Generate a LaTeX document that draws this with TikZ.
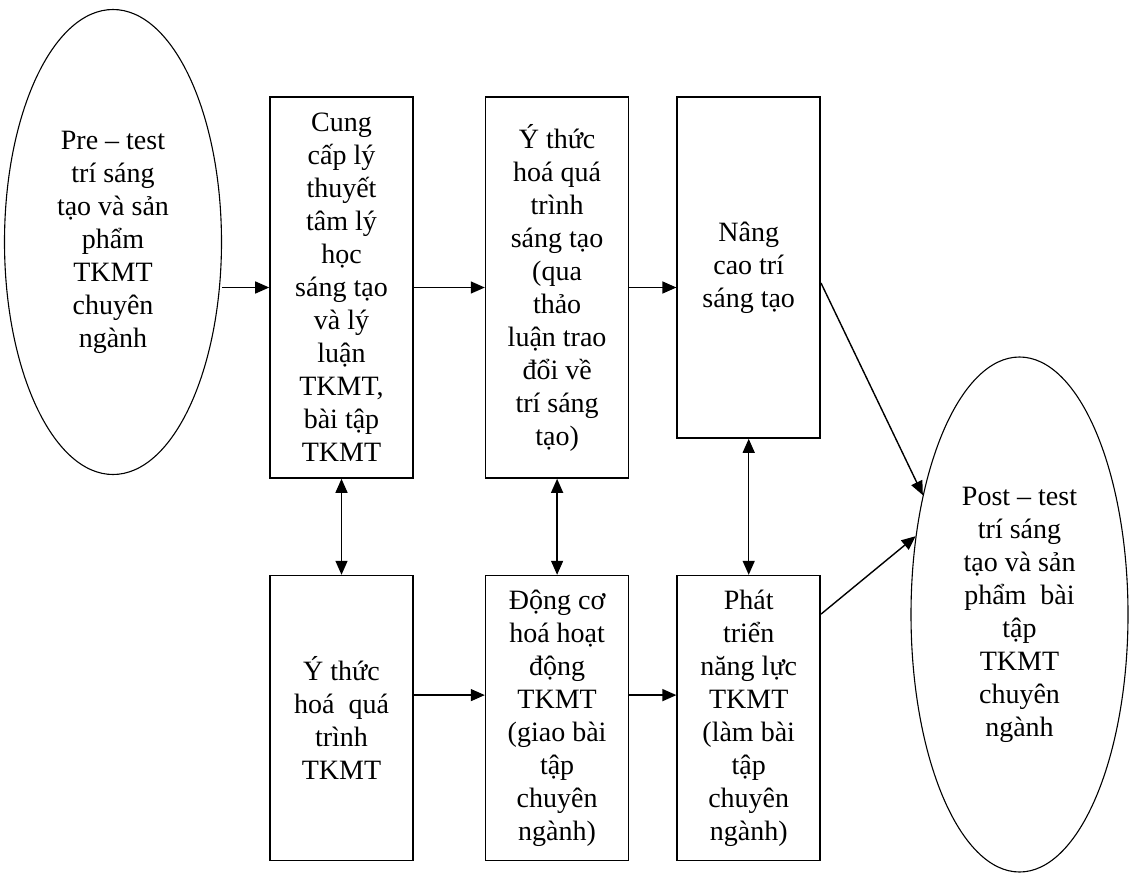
\documentclass[tikz,border=0pt]{standalone}
\usepackage{fontspec}
\setmainfont{Liberation Serif}
\usetikzlibrary{shapes.geometric, arrows.meta, positioning}

\begin{document}
\begin{tikzpicture}[
    stage/.style={draw, line width=0.8pt, minimum width=71.5pt, inner sep=2pt, align=center, font=\fontsize{14}{16.5}\selectfont},
    test/.style={draw, ellipse, line width=0.55pt, minimum width=108.5pt, inner sep=0pt, align=center, font=\fontsize{14}{16.5}\selectfont},
    arrow/.style={-{Triangle[length=7pt, width=6pt]}, line width=0.7pt},
    both/.style={{Triangle[length=7pt, width=6pt]}-{Triangle[length=7pt, width=6pt]}, line width=0.7pt}
]
    \useasboundingbox (0,0) rectangle (567pt,-444pt);

    % Tests
    \node[test, minimum height=232.5pt] (pre) at (56.5pt,-121pt) {Pre -- test\\trí sáng\\tạo và sản\\phẩm\\TKMT\\chuyên\\ngành};
    \node[test, minimum height=257.5pt] (post) at (509.75pt,-307.25pt) {Post -- test\\trí sáng\\tạo và sản\\phẩm~ bài\\tập\\TKMT\\chuyên\\ngành};

    % Nodes - top row
    \node[stage, minimum height=190.5pt] (theory) at (170.75pt,-143.75pt) {Cung\\cấp lý\\thuyết\\tâm lý\\học\\sáng tạo\\và lý\\luận\\TKMT,\\bài tập\\TKMT};
    \node[stage, minimum height=190.5pt, right=35.5pt of theory] (aware) {Ý thức\\hoá quá\\trình\\sáng tạo\\(qua\\thảo\\luận trao\\đổi về\\trí sáng\\tạo)};
    \node[stage, minimum height=170.5pt, below right=0pt and 23.5pt of aware.north east] (raise) {Nâng\\cao trí\\sáng tạo};

    % Nodes - bottom row
    \node[stage, minimum height=142.5pt, below=48pt of theory] (design) {Ý thức\\hoá~ quá\\trình\\TKMT};
    \node[stage, minimum height=142.5pt, below=48pt of aware] (motive) {Động cơ\\hoá hoạt\\động\\TKMT\\(giao bài\\tập\\chuyên\\ngành)};
    \node[stage, minimum height=142.5pt, below=68pt of raise] (skill) {Phát\\triển\\năng lực\\TKMT\\(làm bài\\tập\\chuyên\\ngành)};

    % Arrows
    \draw[arrow] (pre.east |- theory) -- (theory);
    \draw[arrow] (theory) -- (aware);
    \draw[arrow] (aware) -- (aware -| raise.west);
    \draw[arrow] ([yshift=11.5pt]design.east) -- ([yshift=11.5pt]motive.west);
    \draw[arrow] ([yshift=11.5pt]motive.east) -- ([yshift=11.5pt]motive.east -| skill.west);
    \draw[both] (theory) -- (design);
    \draw[both] (aware) -- (motive);
    \draw[both] (raise) -- (skill);
    \draw[arrow] ([yshift=-7.75pt]raise.east) -- (post.129);
    \draw[arrow] ([yshift=52pt]skill.east) -- (post.143);
\end{tikzpicture}
\end{document}
